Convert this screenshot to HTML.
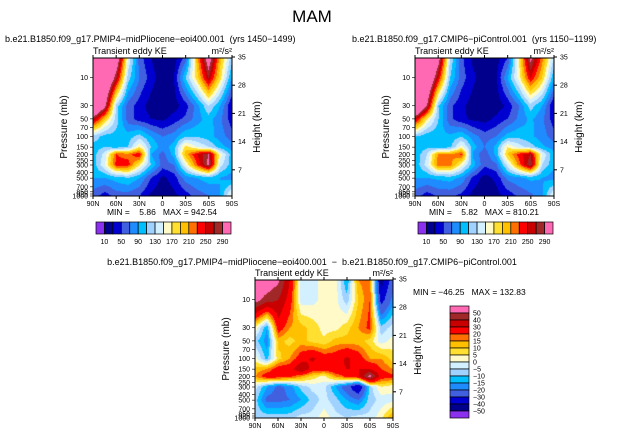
<!DOCTYPE html>
<html><head><meta charset="utf-8">
<style>
body{margin:0;background:#fff;}
#wrap{position:relative;width:624px;height:437px;overflow:hidden;background:#fff;font-family:"Liberation Sans",sans-serif;}
canvas{position:absolute;}
svg{position:absolute;left:0;top:0;}
text{font-family:"Liberation Sans",sans-serif;fill:#000;white-space:pre;}
</style></head>
<body>
<div id="wrap">
<canvas id="c1" style="left:93px;top:58px" width="139" height="138"></canvas>
<canvas id="c2" style="left:415px;top:58px" width="139" height="138"></canvas>
<canvas id="c3" style="left:255px;top:280px" width="138" height="138"></canvas>
<svg id="ov" width="624" height="437"></svg>
</div>
<script>
// ---- data ----
const latLabels = ["90N","75N","60N","45N","30N","15N","0","15S","30S","45S","60S","75S","90S"];
const presLevels = [5,10,30,50,100,150,200,300,500,1000];
const kePanel1 = [
[400,400,330,150,60,30,15,20,60,200,320,200,120],
[400,380,270,120,70,40,15,30,110,180,270,180,90],
[400,300,120,60,40,20,15,20,40,80,130,90,30],
[270,190,120,60,40,30,25,40,55,80,100,75,40],
[120,100,100,100,120,90,70,80,110,110,100,80,60],
[100,110,100,110,170,110,80,100,180,150,130,100,80],
[100,140,230,220,250,90,60,100,200,250,290,160,100],
[100,150,240,240,170,110,60,70,150,230,300,140,100],
[90,90,100,110,90,50,25,40,80,90,100,90,80],
[60,40,60,60,50,25,15,25,40,60,70,90,160]];
const kePanel2 = [
[400,400,310,130,55,25,15,20,50,170,300,220,130],
[400,370,250,110,60,35,15,25,90,160,250,190,95],
[400,290,110,55,35,20,15,18,35,70,120,90,30],
[260,170,110,55,35,25,22,35,50,75,95,75,40],
[110,95,95,95,110,80,60,70,100,105,95,80,60],
[95,105,95,105,160,100,70,95,170,140,120,95,80],
[95,130,215,210,235,85,55,95,190,240,270,150,95],
[95,140,225,220,160,100,55,65,140,220,290,130,95],
[90,90,95,100,85,45,22,35,75,85,95,90,80],
[60,40,55,55,45,22,12,22,38,55,65,85,150]];
const kePanelDiff = [
[60,60,52,30,-3,-3,3,3,-15,15,18,-45,-25],
[55,45,40,25,-3,-2,2,2,-8,10,20,-35,-18],
[3,-15,25,15,12,8,3,3,8,15,22,-8,-3],
[-8,-18,12,8,12,8,6,12,12,12,8,-3,2],
[2,-12,8,15,25,32,25,25,32,25,15,15,8],
[12,15,25,25,40,25,25,28,30,30,30,20,15],
[15,25,25,22,15,8,3,15,22,28,55,25,22],
[-3,-15,-22,-18,-8,-3,-3,-15,-25,-42,-8,5,2],
[-8,-22,-22,-20,-15,-8,-3,-8,-15,-20,-8,-3,-2],
[-7,-7,-7,-7,-3,-3,3,-3,-5,-3,-3,3,15]];
const levelsKE = [10,30,50,70,90,110,130,150,170,190,210,230,250,270,290];
const levelsDiff = [-50,-40,-30,-20,-15,-10,-5,0,5,10,15,20,30,40,50];
const tickLabelsKE = ["10","50","90","130","170","210","250","290"];
const tickLabelsDiff = ["-50","-40","-30","-20","-15","-10","-5","0","5","10","15","20","30","40","50"];
const pressTicks = [10,30,50,70,100,150,200,250,300,400,500,700,850,925,1000];
const heightTicks = [7,14,21,28,35];
const xTicks = ["90N","60N","30N","0","30S","60S","90S"];
const palette = ["#8c30f0","#00008c","#0000d0","#4060e0","#1e8cff","#00bfff","#a0d2ff","#d2f0ff","#fffac8","#ffe030","#ffc000","#ff7000","#ff0000","#c80000","#a02828","#ff69b4"];

// ---- axes ----
const P_TOP = 4.7, LOGSPAN = Math.log10(1000/P_TOP);
function yFrac(p){ return 1 - Math.log10(1000/p)/LOGSPAN; }
function colorFor(v, levels){ let i=0; while(i<levels.length && v>=levels[i]) i++; return palette[i]; }
function sample(grid, fx, fy){
  const nc = grid[0].length;
  const cx = fx*(nc-1); let i = Math.min(Math.floor(cx), nc-2); const tx = cx-i;
  const rowF = presLevels.map(yFrac);
  rowF[0]=0;
  let j=0; while(j<rowF.length-2 && fy>rowF[j+1]) j++;
  let ty = (fy-rowF[j])/(rowF[j+1]-rowF[j]); ty=Math.max(0,Math.min(1,ty));
  const a=grid[j][i]*(1-tx)+grid[j][i+1]*tx, b=grid[j+1][i]*(1-tx)+grid[j+1][i+1]*tx;
  return a*(1-ty)+b*ty;
}
function drawField(id, grid, levels){
  const c=document.getElementById(id), ctx=c.getContext('2d');
  const W=c.width,H=c.height;
  for(let y=0;y<H;y++) for(let x=0;x<W;x++){
    ctx.fillStyle=colorFor(sample(grid,x/(W-1),y/(H-1)),levels);
    ctx.fillRect(x,y,1,1);
  }
}
drawField('c1',kePanel1,levelsKE);
drawField('c2',kePanel2,levelsKE);
drawField('c3',kePanelDiff,levelsDiff);

const NS='http://www.w3.org/2000/svg', ov=document.getElementById('ov');
function el(tag, attrs, txt){ const e=document.createElementNS(NS,tag); for(const k in attrs) e.setAttribute(k,attrs[k]); if(txt!==undefined) e.textContent=txt; ov.appendChild(e); return e; }

function axes(px,py,w,h,name){
  let r=el('rect',{x:px,y:py,width:w,height:h,fill:'none',stroke:'#000','stroke-width':1});
  
  
  xTicks.forEach((t,i)=>{
    const x=px+i*w/(xTicks.length-1);
    el('line',{x1:x,y1:py+h,x2:x,y2:py+h+3,stroke:'#000'});
    el('line',{x1:x,y1:py,x2:x,y2:py-3,stroke:'#000'});
    let tx=el('text',{x:x,y:py+h+10,'font-size':7,'text-anchor':'middle'},t);
    
    
  });
  pressTicks.forEach(p=>{
    const y=py+yFrac(p)*h;
    el('line',{x1:px,y1:y,x2:px-3,y2:y,stroke:'#000','stroke-width':0.6});
    let tx=el('text',{x:px-5,y:y+2.5,'font-size':7,'text-anchor':'end'},String(p));
    
    
  });
  heightTicks.forEach(k=>{
    const y=py+h-(k/7)*28.2+2;
    el('line',{x1:px+w,y1:y,x2:px+w+3,y2:y,stroke:'#000'});
    let tx=el('text',{x:px+w+6,y:y+2.5,'font-size':7},String(k));
    
    
  });
  let yt=el('text',{x:0,y:0,'font-size':10,'text-anchor':'middle',transform:`translate(${px-26},${py+h/2}) rotate(-90)`},'Pressure (mb)');
  
  
  let ht=el('text',{x:0,y:0,'font-size':10,'text-anchor':'middle',transform:`translate(${px+w+28},${py+h/2}) rotate(-90)`},'Height (km)');
  
  
  let lt=el('text',{x:px,y:py-4,'font-size':9},'Transient eddy KE');
  
  
  let rt=el('text',{x:px+w,y:py-4,'font-size':9,'text-anchor':'end'},'m²/s²');
  
  
}
axes(93,58,139,138,'panel-pliocene');
axes(415,58,139,138,'panel-picontrol');
axes(255,280,138,138,'panel-difference');

function hbar(x0,y0,w,h,name){
  const n=palette.length, bw=w/n;
  palette.forEach((c,i)=>{
    let r=el('rect',{x:x0+i*bw,y:y0,width:bw,height:h,fill:c,stroke:'#000','stroke-width':0.7});
    
    
  });
  tickLabelsKE.forEach((t,i)=>{
    let tx=el('text',{x:x0+(1+2*i)*bw,y:y0+h+10,'font-size':7,'text-anchor':'middle'},t);
    
    
  });
}
hbar(96,222,135,12,'colorbar-pliocene');
hbar(418,222,135,12,'colorbar-picontrol');
(function(){
  const x0=450,y0=306,w=19,h=112,n=palette.length,bh=h/n;
  for(let i=0;i<n;i++){
    let r=el('rect',{x:x0,y:y0+i*bh,width:w,height:bh,fill:palette[n-1-i],stroke:'#000','stroke-width':0.7});
    
    
  }
  tickLabelsDiff.slice().reverse().forEach((t,i)=>{
    let tx=el('text',{x:x0+w+4,y:y0+(i+1)*bh+2.5,'font-size':7},t.replace('-','\u2212'));
    
    
  });
})();

function txt(x,y,s,size,anchor,name){
  let t=el('text',{x:x,y:y,'font-size':size,'text-anchor':anchor||'start'},s);
  
  
}
txt(312,22,'MAM',17,'middle','main-title');
txt(5,42,'b.e21.B1850.f09_g17.PMIP4\u2212midPliocene\u2212eoi400.001  (yrs 1450\u22121499)',9,'start','panel-pliocene-title');
txt(352,42,'b.e21.B1850.f09_g17.CMIP6\u2212piControl.001  (yrs 1150\u22121199)',9,'start','panel-picontrol-title');
txt(162,215,'MIN =    5.86   MAX = 942.54',8.5,'middle','panel-pliocene-minmax');
txt(484,215,'MIN =    5.82   MAX = 810.21',8.5,'middle','panel-picontrol-minmax');
txt(312,265,'b.e21.B1850.f09_g17.PMIP4\u2212midPliocene\u2212eoi400.001  \u2212  b.e21.B1850.f09_g17.CMIP6\u2212piControl.001',9,'middle','panel-difference-title');
txt(413,295,'MIN = \u221246.25   MAX = 132.83',8.5,'start','panel-difference-minmax');
</script>
</body></html>
